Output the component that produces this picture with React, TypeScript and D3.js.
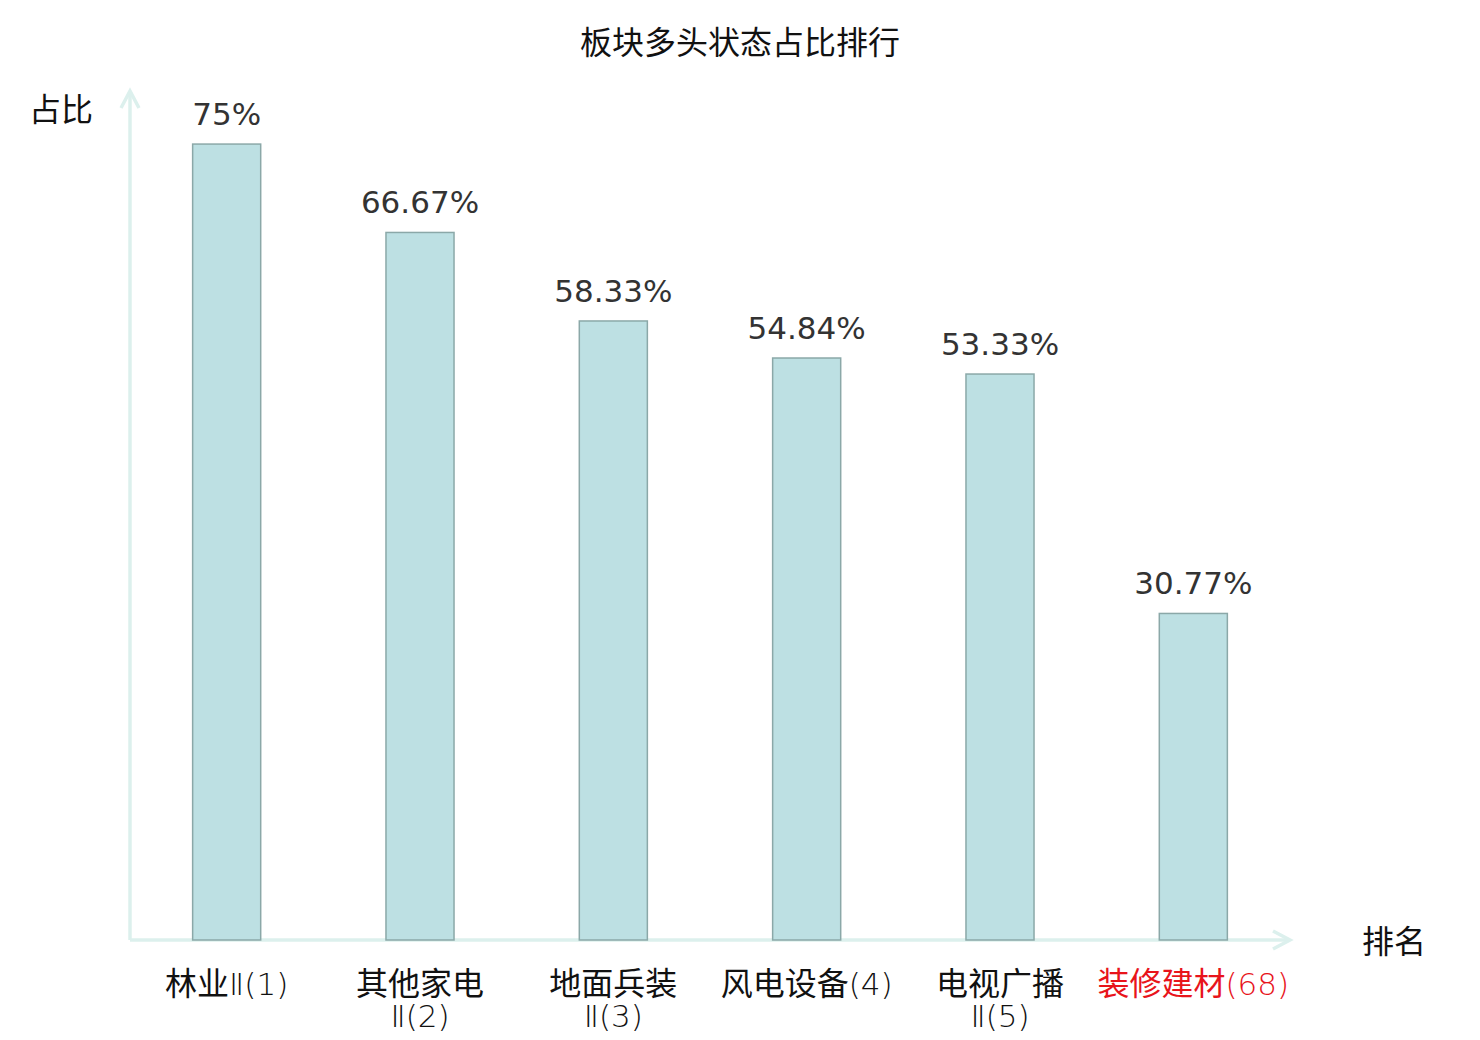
import React from 'react';
import * as d3 from 'd3';

const title = '板块多头状态占比排行';
const yName = '占比';
const xName = '排名';

// category labels, "\n" marks the line break used in the picture
const categories = [
  '林业Ⅱ(1)',
  '其他家电\nⅡ(2)',
  '地面兵装\nⅡ(3)',
  '风电设备(4)',
  '电视广播\nⅡ(5)',
  '装修建材(68)',
];
const values = [75, 66.67, 58.33, 54.84, 53.33, 30.77];
const highlighted = [false, false, false, false, false, true];
const yMax = 80;

const W = 1480;
const H = 1040;
const left = 130;
const right = 1290;
const bottom = 940;
const top = 91;

const cjk = '"Noto Sans CJK SC", "Noto Sans", sans-serif';
const num = '"DejaVu Sans", sans-serif';
const axisColor = '#dcf0ed';

// split a line into runs of CJK / other chars so digits get the thin font
const runs = (s: string) => s.match(/[\u4e00-\u9fff]+|[^\u4e00-\u9fff]+/g) || [];

const App: React.FC = () => {
  const x = d3.scaleBand<number>()
    .domain(d3.range(categories.length))
    .range([left, right])
    .paddingInner(0)
    .paddingOuter(0);

  const y = d3.scaleLinear()
    .domain([0, yMax])
    .range([bottom, top]);

  const bw = x.bandwidth() * 0.352;

  return (
    <svg width={W} height={H} style={{ display: 'block', margin: '-8px 0 0 -8px' }}>
      <rect width={W} height={H} fill="#fff" />
      <text x={740} y={54} textAnchor="middle" fontFamily={cjk} fontSize={32} fill="#111">{title}</text>

      {/* axes */}
      <line x1={left} y1={bottom} x2={left} y2={top} stroke={axisColor} strokeWidth={3.5} />
      <path d={`M${left - 9},${top + 17} L${left},${top} L${left + 9},${top + 17}`} fill="none" stroke={axisColor} strokeWidth={3.5} />
      <line x1={left} y1={bottom} x2={right} y2={bottom} stroke={axisColor} strokeWidth={3.5} />
      <path d={`M${right - 17},${bottom - 9} L${right},${bottom} L${right - 17},${bottom + 9}`} fill="none" stroke={axisColor} strokeWidth={3.5} />

      <text x={93} y={121} textAnchor="end" fontFamily={cjk} fontSize={32} fill="#111">{yName}</text>
      <text x={1362} y={953} fontFamily={cjk} fontSize={32} fill="#111">{xName}</text>

      {values.map((v, i) => {
        const cx = (x(i) as number) + x.bandwidth() / 2;
        return (
          <g key={i}>
            <rect x={cx - bw / 2} y={y(v)} width={bw} height={bottom - y(v)} fill="#bde0e3" stroke="#8ba8a8" strokeWidth={1.5} />
            <text x={cx} y={y(v) - 19} textAnchor="middle" fontFamily={num} fontSize={31} fill="#333">{`${v}%`}</text>
            {categories[i].split('\n').map((ln, j) => (
              <text key={j} x={cx} y={995 + j * 32} textAnchor="middle" fontFamily={cjk} fontSize={32}
                fill={highlighted[i] ? '#e8141b' : '#111'}>
                {runs(ln).map((r, k) => /[\u4e00-\u9fff]/.test(r)
                  ? <tspan key={k}>{r}</tspan>
                  : <tspan key={k} fontFamily={num} fontWeight={200} fontSize={31}>{r}</tspan>)}
              </text>
            ))}
          </g>
        );
      })}
    </svg>
  );
};

export default App;
